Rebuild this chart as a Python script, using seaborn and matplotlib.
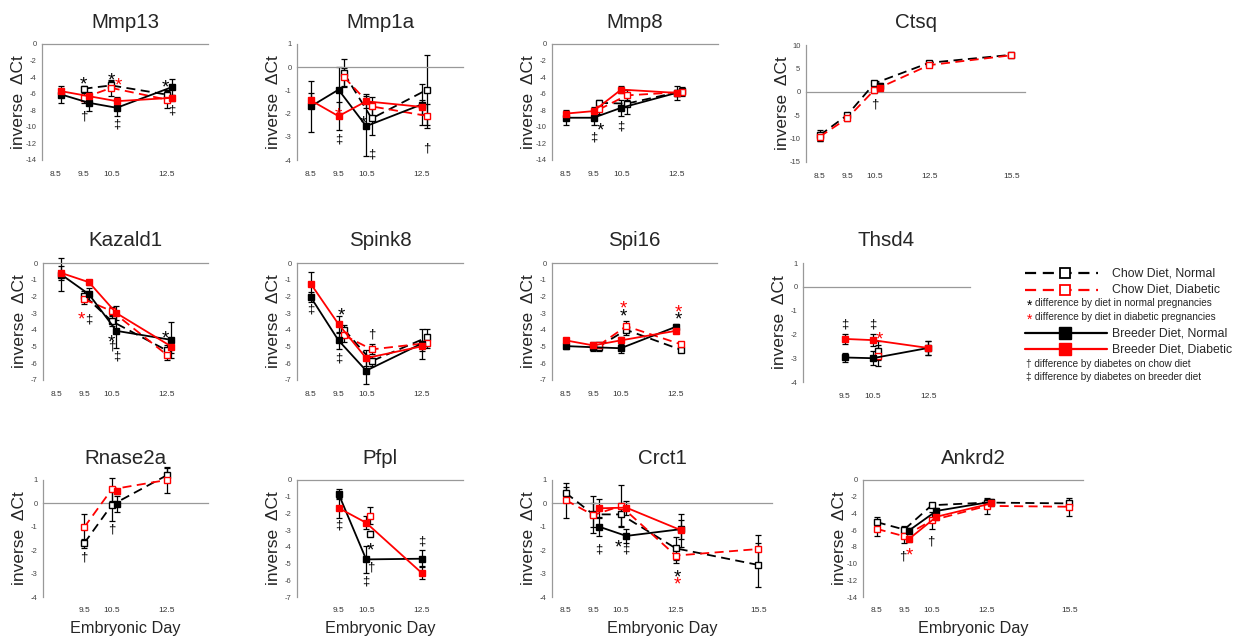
import numpy as np
import pandas as pd
import matplotlib.pyplot as plt
import seaborn as sns

nan = np.nan
K = "black"
R = "#ff0000"
GRAY = "#999999"

# ---- data: inverse dCt per panel (cn/cd = chow normal/diabetic, bn/bd = breeder normal/diabetic)
mmp13 = dict(
    days=[8.5, 9.5, 10.5, 12.5],
    cn=[nan, -5.4, -5.0, -6.1], cn_err=[0, 0.3, 0.5, 0.6],
    cd=[nan, -6.5, -5.3, -6.7], cd_err=[0, 0.6, 1.0, 1.0],
    bn=[-6.1, -7.1, -7.7, -5.2], bn_err=[1.0, 1.0, 1.0, 1.0],
    bd=[-5.7, -6.3, -6.9, -6.5], bd_err=[0.3, 0.5, 0.5, 0.4],
    marks=[(9.5, -4.2, "*", K), (9.5, -8.7, "†", K), (10.5, -3.7, "*", K), (10.75, -4.3, "*", R),
           (10.7, -9.7, "‡", K), (12.45, -4.6, "*", K), (12.7, -8.0, "‡", K)],
)
mmp1a = dict(
    days=[8.5, 9.5, 10.5, 12.5],
    cn=[nan, -0.26, -2.21, -0.97], cn_err=[0, 0.6, 0.7, 1.5],
    cd=[nan, -0.43, -1.69, -2.1], cd_err=[0, 0.4, 0.4, 0.5],
    bn=[-1.69, -0.97, -2.54, -1.61], bn_err=[1.1, 1.0, 1.3, 0.9],
    bd=[-1.43, -2.11, -1.47, -1.71], bd_err=[0.3, 0.6, 0.3, 0.3],
    marks=[(9.5, -1.83, "*", R), (9.5, -3.1, "‡", K), (10.4, -2.17, "*", K),
           (10.7, -3.75, "‡", K), (12.7, -3.5, "†", K)],
)
mmp8 = dict(
    days=[8.5, 9.5, 10.5, 12.5],
    cn=[nan, -7.1, -7.2, -5.7], cn_err=[0, 0.4, 1.2, 0.5],
    cd=[nan, -7.9, -6.2, -5.8], cd_err=[0, 0.5, 0.6, 0.5],
    bn=[-8.9, -8.9, -7.7, -5.9], bn_err=[0.9, 0.9, 1.0, 0.8],
    bd=[-8.4, -8.1, -5.5, -5.9], bd_err=[0.3, 0.5, 0.4, 0.4],
    marks=[(9.75, -9.8, "*", K), (9.5, -11.3, "‡", K), (10.5, -10.0, "‡", K)],
)
ctsq = dict(
    days=[8.5, 9.5, 10.5, 12.5, 15.5],
    cn=[-9.3, -5.0, 1.8, 6.2, 7.9], cn_err=[1.2, 0.5, 0.6, 0.4, 0.4],
    cd=[-9.6, -5.7, 0.4, 5.7, 7.8], cd_err=[1.0, 0.5, 0.6, 0.4, 0.4],
    bn=[nan, nan, 1.2, nan, nan], bn_err=[0, 0, 0.6, 0, 0],
    bd=[nan, nan, 0.9, nan, nan], bd_err=[0, 0, 0.6, 0, 0],
    marks=[(10.5, -2.7, "†", K)],
)
kazald1 = dict(
    days=[8.5, 9.5, 10.5, 12.5],
    cn=[nan, -1.95, -3.48, -5.23], cn_err=[0, 0.3, 0.3, 0.3],
    cd=[nan, -2.17, -2.88, -5.49], cd_err=[0, 0.3, 0.25, 0.3],
    bn=[-0.7, -1.87, -4.06, -4.6], bn_err=[1.0, 0.4, 1.0, 1.1],
    bd=[-0.6, -1.15, -3.0, -5.0], bd_err=[0.4, 0.15, 0.4, 0.4],
    marks=[(9.4, -3.06, "*", R), (9.65, -3.4, "‡", K), (10.5, -4.4, "*", K),
           (10.5, -5.0, "†", K), (10.7, -5.6, "‡", K), (12.45, -4.2, "*", K)],
)
spink8 = dict(
    days=[8.5, 9.5, 10.5, 12.5],
    cn=[nan, -3.98, -5.87, -4.45], cn_err=[0, 0.3, 0.3, 0.5],
    cd=[nan, -4.33, -5.17, -4.79], cd_err=[0, 0.4, 0.3, 0.3],
    bn=[-2.05, -4.63, -6.44, -4.83], bn_err=[0.3, 0.5, 0.8, 0.9],
    bd=[-1.25, -3.66, -5.69, -4.99], bd_err=[0.7, 0.5, 0.5, 0.3],
    marks=[(8.5, -2.8, "‡", K), (9.6, -2.8, "*", K), (9.5, -5.7, "‡", K), (10.7, -4.3, "†", K)],
)
spi16 = dict(
    days=[8.5, 9.5, 10.5, 12.5],
    cn=[nan, -5.0, -4.0, -5.2], cn_err=[0, 0.25, 0.3, 0.15],
    cd=[nan, -4.93, -3.78, -4.87], cd_err=[0, 0.2, 0.3, 0.15],
    bn=[-4.97, -5.04, -5.1, -3.82], bn_err=[0.2, 0.25, 0.3, 0.2],
    bd=[-4.63, -4.93, -4.63, -4.06], bd_err=[0.15, 0.2, 0.2, 0.15],
    marks=[(10.6, -2.4, "*", R), (10.6, -2.85, "*", K), (12.6, -2.6, "*", R), (12.6, -3.05, "*", K)],
)
thsd4 = dict(
    days=[9.5, 10.5, 12.5],
    cn=[nan, -2.69, nan], cn_err=[0, 0.4, 0],
    cd=[nan, -2.89, nan], cd_err=[0, 0.45, 0],
    bn=[-2.97, -3.0, -2.57], bn_err=[0.2, 0.3, 0.3],
    bd=[-2.19, -2.24, -2.57], bd_err=[0.2, 0.25, 0.3],
    marks=[(9.5, -1.57, "‡", K), (10.5, -1.57, "‡", K), (10.75, -1.97, "*", R)],
)
rnase2a = dict(
    days=[9.5, 10.5, 12.5],
    cn=[-1.7, -0.07, 1.2], cn_err=[0.2, 0.7, 0.3],
    cd=[-1.02, 0.6, 1.0], cd_err=[0.55, 0.5, 0.55],
    bn=[nan, -0.03, nan], bn_err=[0, 0.35, 0],
    bd=[nan, 0.52, nan], bd_err=[0, 0.1, 0],
    marks=[(9.5, -2.3, "†", K), (10.5, -1.1, "†", K)],
)
pfpl = dict(
    days=[9.5, 10.5, 12.5],
    cn=[nan, -3.22, nan], cn_err=[0, 0.15, 0],
    cd=[nan, -2.13, nan], cd_err=[0, 0.5, 0],
    bn=[-0.82, -4.75, -4.71], bn_err=[0.3, 0.8, 0.5],
    bd=[-1.67, -2.56, -5.55], bd_err=[0.6, 0.4, 0.4],
    marks=[(9.5, -2.7, "‡", K), (10.65, -3.86, "*", K), (10.65, -5.25, "†", K),
           (10.5, -6.1, "‡", K), (12.5, -3.66, "‡", K)],
)
crct1 = dict(
    days=[8.5, 9.5, 10.5, 12.5, 15.5],
    cn=[0.45, -0.47, -0.47, -1.92, -2.63], cn_err=[0.25, 0.8, 0.5, 0.5, 0.95],
    cd=[0.14, -0.5, -0.11, -2.23, -1.95], cd_err=[0.75, 0.5, 0.9, 0.3, 0.6],
    bn=[nan, -0.99, -1.39, -1.1, nan], bn_err=[0, 0.4, 0.3, 0.4, 0],
    bd=[nan, -0.21, -0.18, -1.15, nan], bd_err=[0, 0.4, 0.3, 0.7, 0],
    marks=[(9.7, -1.95, "‡", K), (10.4, -1.64, "*", K), (10.7, -1.98, "‡", K),
           (12.55, -2.9, "*", K), (12.55, -3.2, "*", R)],
)
ankrd2 = dict(
    days=[8.5, 9.5, 10.5, 12.5, 15.5],
    cn=[-5.04, -5.93, -3.02, -2.7, -2.8], cn_err=[0.6, 0.4, 0.2, 0.4, 0.3],
    cd=[-5.85, -6.73, -4.84, -3.1, -3.2], cd_err=[0.9, 0.8, 1.0, 1.0, 1.1],
    bn=[nan, -6.05, -3.7, -2.6, nan], bn_err=[0, 0.3, 0.3, 0.3, 0],
    bd=[nan, -7.06, -4.4, -2.8, nan], bd_err=[0, 0.4, 0.4, 0.3, 0],
    marks=[(9.45, -9.1, "†", K), (9.7, -8.3, "*", R), (10.45, -7.3, "†", K)],
)

# title, data, pixel box (l, r, t, b), x max, (ymin, ymax, step), (chow shift, breeder shift)
PANELS = [
    ("Mmp13", mmp13, (42, 208, 44, 160), 14, (-14, 0, 2), (0, 0.2)),
    ("Mmp1a", mmp1a, (297, 463, 44, 160), 14, (-4, 1, 1), (0.2, 0)),
    ("Mmp8", mmp8, (552, 718, 44, 160), 14, (-14, 0, 2), (0.2, 0)),
    ("Ctsq", ctsq, (806, 1025, 45, 162), 16, (-15, 10, 5), (0, 0.2)),
    ("Kazald1", kazald1, (43, 208, 263, 380), 14, (-7, 0, 1), (0, 0.17)),
    ("Spink8", spink8, (297, 463, 263, 380), 14, (-7, 0, 1), (0.2, 0)),
    ("Spi16", spi16, (552, 717, 263, 380), 14, (-7, 0, 1), (0.2, 0)),
    ("Thsd4", thsd4, (803, 970, 263, 382), 14, (-4, 1, 1), (0.2, 0)),
    ("Rnase2a", rnase2a, (43, 208, 480, 597), 14, (-4, 1, 1), (0, 0.2)),
    ("Pfpl", pfpl, (297, 463, 480, 597), 14, (-7, 0, 1), (0.15, 0)),
    ("Crct1", crct1, (552, 772, 480, 597), 16, (-4, 1, 1), (0, 0.2)),
    ("Ankrd2", ankrd2, (863, 1083, 480, 597), 16, (-14, 0, 2), (0, 0.17)),
]

STYLE = {
    "cn": dict(color=K, mfc="white", ls=(0, (5, 3))),
    "cd": dict(color=R, mfc="white", ls=(0, (5, 3))),
    "bn": dict(color=K, mfc=K, ls="-"),
    "bd": dict(color=R, mfc=R, ls="-"),
}

sns.set_style("white")
plt.rcParams["font.family"] = ["Liberation Sans", "DejaVu Sans"]
plt.rcParams["axes.unicode_minus"] = False

W, H = 1241, 637
fig = plt.figure(figsize=(W / 100, H / 100), dpi=100)


def long_frame(p, sc, sb):
    rows = []
    for key, shift in (("cn", sc), ("cd", sc), ("bn", sb), ("bd", sb)):
        for d, v, e in zip(p["days"], p[key], p[key + "_err"]):
            if not np.isnan(v):
                rows.append(dict(series=key, x=d + shift, value=v, err=e))
    return pd.DataFrame(rows)


for i, (title, p, (l, r, t, b), xmax, (y0, y1, ystep), (sc, sb)) in enumerate(PANELS):
    ax = fig.add_axes([l / W, 1 - b / H, (r - l) / W, (b - t) / H])
    df = long_frame(p, sc, sb)
    for key in ("cn", "cd", "bn", "bd"):
        sub = df[df.series == key]
        if sub.empty:
            continue
        st = STYLE[key]
        ax.errorbar(sub.x, sub.value, yerr=sub.err, fmt="none", ecolor=K,
                    elinewidth=0.9, capsize=2.5, capthick=0.9, zorder=2, clip_on=False)
        sns.lineplot(data=sub, x="x", y="value", ax=ax, color=st["color"],
                     linestyle=st["ls"], linewidth=1.3, marker="s", markersize=4.5,
                     markerfacecolor=st["mfc"], markeredgecolor=st["color"],
                     markeredgewidth=1.0, errorbar=None, estimator=None, zorder=3,
                     clip_on=False)

    for x, y, sym, c in p["marks"]:
        if sym == "*":
            ax.annotate(sym, (x, y), xytext=(0, -4.5), textcoords="offset points",
                        ha="center", va="center", fontsize=13.5, color=c, zorder=5)
        else:
            ax.annotate(sym, (x, y), ha="center", va="center", fontsize=9.5, color=c, zorder=5)

    ax.set_xlim(8, xmax)
    ax.set_ylim(y0, y1)
    yt = np.arange(y0, y1 + 0.01, ystep)
    ax.set_yticks(yt)
    ax.set_yticklabels([f"{int(v)}" for v in yt])
    ax.set_xticks(np.arange(8, xmax + 0.01, 1))
    ax.tick_params(axis="x", labelbottom=False, direction="out", length=3, color=GRAY, width=0.8)
    ax.tick_params(axis="y", labelsize=5.5, labelcolor="#444444", direction="out",
                   length=2.5, color=GRAY, width=0.8, pad=1.5)
    for s in ("top", "right"):
        ax.spines[s].set_visible(False)
    ax.spines["bottom"].set_position(("data", 0))
    for s in ("bottom", "left"):
        ax.spines[s].set_color(GRAY)
        ax.spines[s].set_linewidth(0.9)

    wpx, hpx = r - l, b - t
    for d in p["days"]:
        ax.text(d, -14 / hpx, f"{d}", transform=ax.get_xaxis_transform(),
                ha="center", va="center", fontsize=6, color="#333333")
    ax.set_xlabel("")
    ax.set_ylabel("inverse  \u0394Ct", fontsize=12.5)
    ax.yaxis.set_label_coords(-16 / wpx, 0.5)
    ax.text(0.5, 1 + 22 / hpx, title, transform=ax.transAxes, ha="center", va="center", fontsize=14.8)
    if i >= 8:
        ax.text(0.5, -31 / hpx, "Embryonic Day", transform=ax.transAxes,
                ha="center", va="center", fontsize=11.7)

# ---- legend, drawn in pixel coordinates
lg = fig.add_axes([0, 0, 1, 1])
lg.set_xlim(0, W)
lg.set_ylim(H, 0)
lg.axis("off")
lg.patch.set_alpha(0)

for y, c, lab in ((273, K, "Chow Diet, Normal"), (290, R, "Chow Diet, Diabetic")):
    lg.plot([1025, 1098], [y, y], color=c, ls=(0, (5, 3)), lw=1.6)
    lg.plot([1065], [y], marker="s", ms=7.5, mfc="white", mec=c, mew=1.3)
    lg.text(1112, y, lab, va="center", ha="left", fontsize=8.8)
for y, c, lab in ((303, K, "difference by diet in normal pregnancies"),
                  (317, R, "difference by diet in diabetic pregnancies")):
    lg.text(1030, y + 3, "*", color=c, ha="center", va="center", fontsize=10)
    lg.text(1035, y, lab, va="center", ha="left", fontsize=7.2)
for y, c, lab in ((333, K, "Breeder Diet, Normal"), (349, R, "Breeder Diet, Diabetic")):
    lg.plot([1025, 1107], [y, y], color=c, ls="-", lw=1.6)
    lg.plot([1065], [y], marker="s", ms=8.5, mfc=c, mec=c, mew=1.0)
    lg.text(1112, y, lab, va="center", ha="left", fontsize=8.8)
lg.text(1026, 364, "\u2020 difference by diabetes on chow diet", va="center", ha="left", fontsize=7.2)
lg.text(1026, 377, "\u2021 difference by diabetes on breeder diet", va="center", ha="left", fontsize=7.2)

fig.savefig("out.png", dpi=100, facecolor="white")
